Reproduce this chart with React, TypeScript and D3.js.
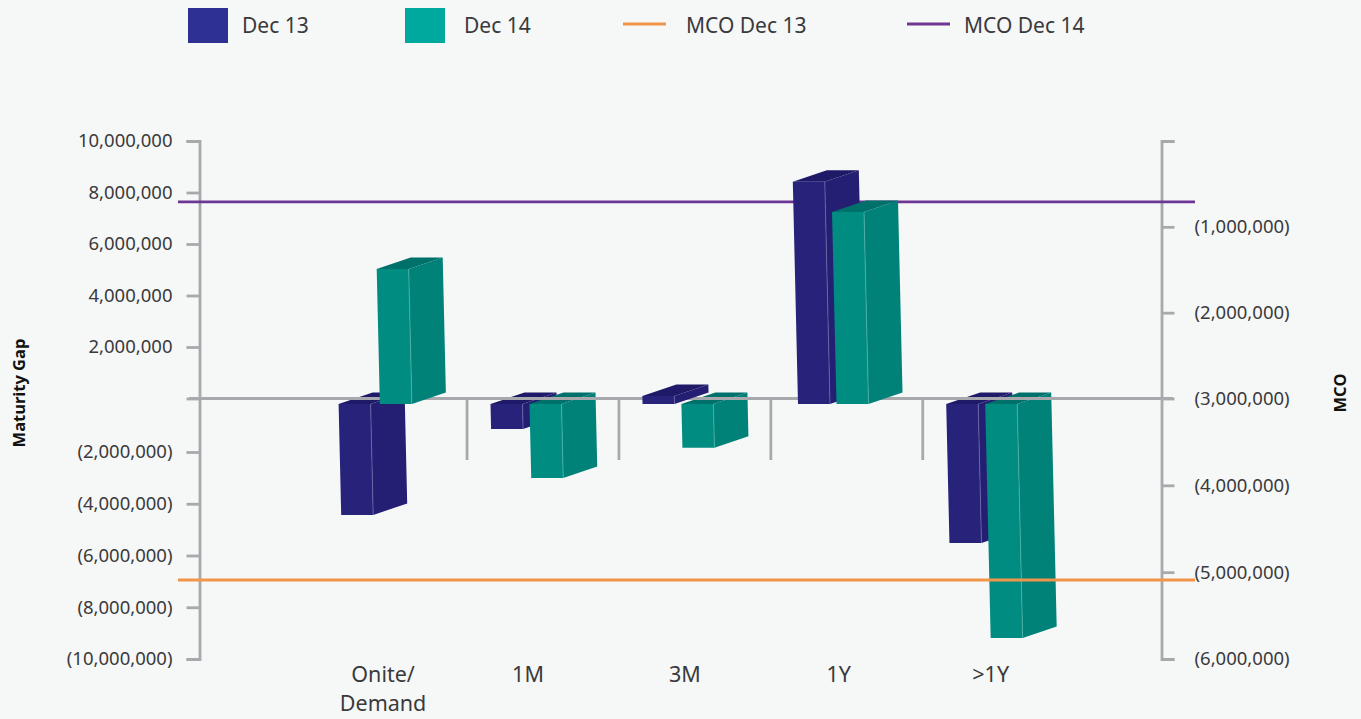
import { useRef, useEffect } from "react"
import * as d3 from "d3"

const categories = ["Onite/Demand", "1M", "3M", "1Y", ">1Y"]
const categoryLines = [["Onite/", "Demand"], ["1M"], ["3M"], ["1Y"], [">1Y"]]
const dec13 = [-4220000, -930000, 310000, 8630000, -5300000]
const dec14 = [5240000, -2790000, -1640000, 7460000, -8980000]
const mcoDec13 = -5090000
const mcoDec14 = -710000
const gapTicks = [10000000, 8000000, 6000000, 4000000, 2000000, 0, -2000000, -4000000, -6000000, -8000000, -10000000]
const mcoTicks = [0, -1000000, -2000000, -3000000, -4000000, -5000000, -6000000]

const width = 1361
const height = 719
const font = "'Noto Sans', sans-serif"
const textColor = "#3a3a3c"
const gray = "#a7a9ac"
const orange = "#f0954a"
const purple = "#6c3695"

const navy = { legend: "#2e3192", front: "#27237a", side: "#241f73", top: "#1f1a68", edge: "#6d6aa8" }
const teal = { legend: "#00a99d", front: "#008c80", side: "#008278", top: "#00706a", edge: "#4fb3aa" }

const fmt = (v: number) => {
  if (v === 0) return ""
  const s = d3.format(",")(Math.abs(v))
  return v < 0 ? `(${s})` : s
}

const App = () => {
  const svgRef = useRef<SVGSVGElement>(null)

  useEffect(() => {
    const svg = d3.select(svgRef.current)
    svg.selectAll("*").remove()

    svg.append("rect").attr("width", width).attr("height", height).attr("fill", "#f6f7f7")

    // the artwork's axes are not quite even, so these have a few stops
    const y = d3.scaleLinear().domain([10000000, 0, -2000000, -10000000]).range([141, 398.5, 452, 659])
    const yMco = d3.scaleLinear().domain([0, -3000000, -6000000]).range([141, 398.5, 659])
    const xGroup = d3.scalePoint().domain(categories).range([338.6, 946.2])
    const xSeries = d3.scalePoint().domain(["Dec 13", "Dec 14"]).range([0, 39])

    const bars = categories.flatMap((c, i) => [
      { category: c, series: "Dec 13", value: dec13[i], color: navy },
      { category: c, series: "Dec 14", value: dec14[i], color: teal },
    ])

    const barWidth = 32
    const depthX = 34
    const depthY = -11.5
    const baseY = 404
    const barDrop = baseY - y(0)
    const lean = 0.0234
    const riseShift = 0.0167 // tall positive bars sit a little further right

    const drawBars = (data: typeof bars) => {
      const bar = svg.append("g").selectAll("g").data(data).enter().append("g")
      const corners = (d: (typeof bars)[0]) => {
        const end = y(d.value) + barDrop
        const top = Math.min(end, baseY)
        const bottom = Math.max(end, baseY)
        const x0 = xGroup(d.category)! + xSeries(d.series)! + (baseY - top) * riseShift
        return {
          top,
          bottom,
          tl: x0 + (top - baseY) * lean,
          bl: x0 + (bottom - baseY) * lean,
        }
      }
      const poly = (pts: number[][]) => pts.map((p) => p.join(",")).join(" ")

      bar
        .append("polygon")
        .attr("fill", (d) => d.color.side)
        .attr("points", (d) => {
          const c = corners(d)
          return poly([
            [c.tl + barWidth, c.top],
            [c.tl + barWidth + depthX, c.top + depthY],
            [c.bl + barWidth + depthX, c.bottom + depthY],
            [c.bl + barWidth, c.bottom],
          ])
        })
      bar
        .append("polygon")
        .attr("fill", (d) => d.color.top)
        .attr("points", (d) => {
          const c = corners(d)
          return poly([
            [c.tl, c.top],
            [c.tl + depthX, c.top + depthY],
            [c.tl + barWidth + depthX, c.top + depthY],
            [c.tl + barWidth, c.top],
          ])
        })
      bar
        .append("polygon")
        .attr("fill", (d) => d.color.front)
        .attr("points", (d) => {
          const c = corners(d)
          return poly([
            [c.tl, c.top],
            [c.tl + barWidth, c.top],
            [c.bl + barWidth, c.bottom],
            [c.bl, c.bottom],
          ])
        })
      bar
        .append("line")
        .attr("stroke", (d) => d.color.edge)
        .attr("stroke-width", 0.8)
        .attr("x1", (d) => corners(d).tl + barWidth)
        .attr("y1", (d) => corners(d).top)
        .attr("x2", (d) => corners(d).bl + barWidth)
        .attr("y2", (d) => corners(d).bottom)
    }

    const hLine = (yPos: number, x1: number, x2: number, color: string) =>
      svg
        .append("line")
        .attr("x1", x1)
        .attr("x2", x2)
        .attr("y1", yPos)
        .attr("y2", yPos)
        .attr("stroke", color)
        .attr("stroke-width", 2.8)

    // axes
    const left = svg
      .append("g")
      .attr("transform", "translate(199.5,0)")
      .call(d3.axisLeft(y).tickValues(gapTicks).tickFormat(fmt as any).tickSize(13).tickSizeOuter(13).tickPadding(14))
    const right = svg
      .append("g")
      .attr("transform", "translate(1161.5,0)")
      .call(d3.axisRight(yMco).tickValues(mcoTicks).tickFormat(fmt as any).tickSize(13).tickSizeOuter(13).tickPadding(20))
    ;[left, right].forEach((axis) => {
      axis.selectAll("path,line").attr("stroke", gray).attr("stroke-width", 2.8)
      axis.selectAll("text").attr("fill", textColor).style("font-family", font).style("font-size", "18.5px")
    })

    // separators between the groups
    const step = xGroup.step()
    svg
      .append("g")
      .selectAll("line")
      .data(categories.slice(1))
      .enter()
      .append("line")
      .attr("x1", (d) => xGroup(d)! - step / 2 + 52.5)
      .attr("x2", (d) => xGroup(d)! - step / 2 + 52.5)
      .attr("y1", y(0))
      .attr("y2", 460)
      .attr("stroke", gray)
      .attr("stroke-width", 2.8)

    hLine(yMco(mcoDec14), 178, 1195, purple)
    drawBars(bars.filter((d) => d.value < 0))
    hLine(y(0), 189, 1173, gray)
    drawBars(bars.filter((d) => d.value >= 0))
    hLine(yMco(mcoDec13), 178, 1195, orange)

    // category labels
    const labelNudge: Record<string, number> = { "1M": -7, "3M": -2 }
    const labels = svg
      .append("g")
      .selectAll("text")
      .data(categories)
      .enter()
      .append("text")
      .attr("text-anchor", "middle")
      .attr("fill", textColor)
      .style("font-family", font)
      .style("font-size", "21.5px")
    labels
      .selectAll("tspan")
      .data((d) => categoryLines[categories.indexOf(d)].map((line) => ({ line, category: d })))
      .enter()
      .append("tspan")
      .attr("x", (d) => xGroup(d.category)! + 44.5 + (labelNudge[d.category] || 0))
      .attr("y", (_, i) => 682 + i * 29)
      .text((d) => d.line)

    // axis titles
    const title = (text: string, x: number) =>
      svg
        .append("text")
        .attr("transform", `translate(${x},393) rotate(-90)`)
        .attr("text-anchor", "middle")
        .attr("fill", "#111")
        .style("font-family", font)
        .style("font-weight", 700)
        .style("font-size", "16.5px")
        .text(text)
    title("Maturity Gap", 25)
    title("MCO", 1346)

    // legend
    const swatches = [
      { name: "Dec 13", x: 188, textX: 242, color: navy.legend },
      { name: "Dec 14", x: 405, textX: 464, color: teal.legend },
    ]
    const lineKeys = [
      { name: "MCO Dec 13", x: 623, textX: 686, color: orange },
      { name: "MCO Dec 14", x: 907, textX: 964, color: purple },
    ]
    const legendText = (text: string, x: number) =>
      svg
        .append("text")
        .attr("x", x)
        .attr("y", 33)
        .attr("fill", textColor)
        .style("font-family", font)
        .style("font-size", "21px")
        .text(text)
    swatches.forEach((s) => {
      svg.append("rect").attr("x", s.x).attr("y", 8).attr("width", 40).attr("height", 35).attr("fill", s.color)
      legendText(s.name, s.textX)
    })
    lineKeys.forEach((k) => {
      hLine(24, k.x, k.x + 43, k.color)
      legendText(k.name, k.textX)
    })
  }, [])

  return (
    <svg
      ref={svgRef}
      width={width}
      height={height}
      style={{ position: "absolute", left: 0, top: 0, display: "block" }}
    ></svg>
  )
}

export default App
